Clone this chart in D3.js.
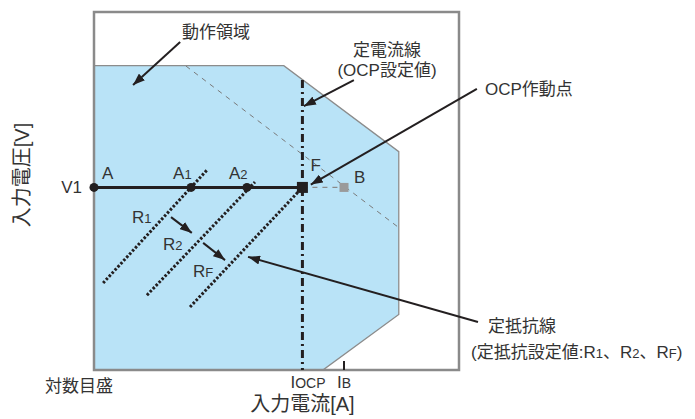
<!DOCTYPE html>
<html>
<head>
<meta charset="utf-8">
<script src="https://cdn.jsdelivr.net/npm/d3@7"></script>
<style>
  body { margin: 0; background: #fff; }
  svg text { font-family: "Liberation Sans", Arial, "Noto Sans CJK JP", sans-serif; fill: #333; }
</style>
</head>
<body>
<svg></svg>
<script>
// chart values, in a 0..100 schematic coordinate system (log current / voltage)
const regionPts = [[0, 85], [52, 85], [83.5, 61], [83.5, 15.5], [62.7, 0], [0, 0]];
const v1 = 51;
const opPoints = [
    { name: "A", sub: "", x: 0 },
    { name: "A", sub: "1", x: 26.6 },
    { name: "A", sub: "2", x: 41.9 }
];
const iOCP = 57.1;
const iB = 68.5;
const ocpTop = 81;
const resistLines = [
    { name: "R", sub: "1", from: [2.5, 24.3], to: [31, 55.9] },
    { name: "R", sub: "2", from: [14.5, 20.9], to: [44.1, 52.5] },
    { name: "R", sub: "F", from: [26.3, 17.6], to: [iOCP, v1] }
];
const powerLine = [[25.2, 84.9], [83.6, 39.7]];
const tickLabels = [{ main: "I", sub: "OCP", x: iOCP }, { main: "I", sub: "B", x: iB }];

// dimensions and margins of the graph
const margin = { top: 12, right: 236, bottom: 49, left: 94 },
    width = 695 - margin.left - margin.right,
    height = 419 - margin.top - margin.bottom;

const root = d3.select("svg")
    .attr("width", 695)
    .attr("height", 419);

const svg = root.append("g")
    .attr("transform", `translate(${margin.left},${margin.top})`);

const xScale = d3.scaleLinear().domain([0, 100]).range([0, width]);
const yScale = d3.scaleLinear().domain([0, 100]).range([height, 0]);

// arrow head
root.append("defs").append("marker")
    .attr("id", "arrow")
    .attr("viewBox", "0 0 10 10")
    .attr("refX", 10)
    .attr("refY", 5)
    .attr("markerUnits", "userSpaceOnUse")
    .attr("markerWidth", 12)
    .attr("markerHeight", 9)
    .attr("preserveAspectRatio", "none")
    .attr("orient", "auto")
    .append("path")
    .attr("d", "M 0 0 L 10 5 L 0 10 z")
    .attr("fill", "#231f20");

const line = d3.line()
    .x(p => xScale(p[0]))
    .y(p => yScale(p[1]));

// operating region
svg.append("path")
    .datum(regionPts)
    .attr("d", line.curve(d3.curveLinearClosed))
    .attr("fill", "#b9e3f7")
    .attr("stroke", "#8c8c8c")
    .attr("stroke-width", 1.3);
line.curve(d3.curveLinear);

// frame
svg.append("rect")
    .attr("x", xScale(0))
    .attr("y", yScale(100))
    .attr("width", xScale(100) - xScale(0))
    .attr("height", yScale(0) - yScale(100))
    .attr("fill", "none")
    .attr("stroke", "#8a8a8a")
    .attr("stroke-width", 2.5);

// thin dashed line through B
svg.append("path")
    .datum(powerLine)
    .attr("d", line)
    .attr("fill", "none")
    .attr("stroke", "#7a7a7a")
    .attr("stroke-width", 1)
    .attr("stroke-dasharray", "5,5");

// dashed F -> B
svg.append("path")
    .datum([[iOCP, v1], [iB, v1]])
    .attr("d", line)
    .attr("stroke", "#8a8a8a")
    .attr("stroke-width", 1.3)
    .attr("stroke-dasharray", "5,5");

// constant-current line (dash dot)
svg.append("path")
    .datum([[iOCP, ocpTop], [iOCP, 0]])
    .attr("d", line)
    .attr("stroke", "#231f20")
    .attr("stroke-width", 3)
    .attr("stroke-dasharray", "8,4,2,4");

// constant-resistance lines
svg.append("g")
    .selectAll("path")
    .data(resistLines)
    .enter()
    .append("path")
    .attr("d", d => line([d.from, d.to]))
    .attr("stroke", "#231f20")
    .attr("stroke-width", 3)
    .attr("stroke-dasharray", "2.5,1.8");

// V1 line A -> F
svg.append("path")
    .datum([[0, v1], [iOCP, v1]])
    .attr("d", line)
    .attr("stroke", "#231f20")
    .attr("stroke-width", 3);

svg.append("g")
    .selectAll("circle")
    .data(opPoints)
    .enter()
    .append("circle")
    .attr("cx", d => xScale(d.x))
    .attr("cy", yScale(v1))
    .attr("r", 4.5)
    .attr("fill", "#231f20");

// F point and B point
svg.append("rect")
    .attr("x", xScale(iOCP) - 5.5)
    .attr("y", yScale(v1) - 5.5)
    .attr("width", 11)
    .attr("height", 11)
    .attr("fill", "#231f20");
svg.append("rect")
    .attr("x", xScale(iB) - 4.5)
    .attr("y", yScale(v1) - 4.5)
    .attr("width", 9)
    .attr("height", 9)
    .attr("fill", "#9a9a9a");

// IB tick
svg.append("line")
    .attr("x1", xScale(iB)).attr("x2", xScale(iB))
    .attr("y1", yScale(0) - 9).attr("y2", yScale(0))
    .attr("stroke", "#231f20")
    .attr("stroke-width", 2);

// annotation arrows
const arrows = [
    [[23.6, 91.6], [10.7, 79.6]],
    [[71.2, 81], [57.5, 73.7]],
    [[104.9, 78.5], [59.4, 51.8]],
    [[105.2, 13.4], [42.2, 31.6]],
    [[21.1, 42.7], [26.8, 38.3]],
    [[29.9, 35.5], [35.9, 30.7]]
];
svg.append("g")
    .selectAll("path")
    .data(arrows)
    .enter()
    .append("path")
    .attr("d", line)
    .attr("stroke", "#231f20")
    .attr("stroke-width", 2)
    .attr("marker-end", "url(#arrow)");

// point labels
function subLabel(g, x, y, main, sub, size, subSize) {
    const t = g.append("text")
        .attr("x", x)
        .attr("y", y)
        .style("font-size", size + "px");
    t.append("tspan").text(main);
    if (sub) t.append("tspan").style("font-size", subSize + "px").text(sub);
    return t;
}

opPoints.forEach(d => {
    subLabel(svg, xScale(d.x) + 8, yScale(v1) - 8, d.name, d.sub, 17, 13)
        .attr("x", xScale(d.x) + (d.sub ? -18 : 8));
});
resistLines.forEach((d, i) => {
    const lx = [132, 163, 193][i] - margin.left;
    const ly = [223, 250, 277][i] - margin.top;
    subLabel(svg, lx, ly, d.name, d.sub, 17, 13);
});
subLabel(svg, xScale(iOCP) + 8, yScale(v1) - 16, "F", "", 17, 13);
subLabel(svg, xScale(iB) + 10, yScale(v1) - 4, "B", "", 17, 13);

svg.append("text")
    .attr("x", -12)
    .attr("y", yScale(v1) + 6)
    .attr("text-anchor", "end")
    .style("font-size", "17px")
    .text("V1");

tickLabels.forEach(d => {
    subLabel(svg, xScale(d.x) - (d.sub === "B" ? 7 : 12), height + 18, d.main, d.sub, 17, 14);
});

// annotation texts (page coords)
const notes = [
    { t: "動作領域", x: 216, y: 38, a: "middle", s: 17 },
    { t: "定電流線", x: 387, y: 56, a: "middle", s: 17 },
    { t: "(OCP設定値)", x: 387, y: 76, a: "middle", s: 17 },
    { t: "OCP作動点", x: 485, y: 95, a: "start", s: 17 },
    { t: "定抵抗線", x: 488, y: 332, a: "start", s: 17 },
    { t: "対数目盛", x: 45, y: 392, a: "start", s: 17 }
];
root.append("g")
    .selectAll("text")
    .data(notes)
    .enter()
    .append("text")
    .attr("x", d => d.x)
    .attr("y", d => d.y)
    .attr("text-anchor", d => d.a)
    .style("font-size", d => d.s + "px")
    .text(d => d.t);

// second line of the resistance note, with small subscripts
const rNote = root.append("text")
    .attr("x", 471)
    .attr("y", 358)
    .style("font-size", "17px");
rNote.append("tspan").text("(定抵抗設定値:");
resistLines.forEach((d, i) => {
    rNote.append("tspan").text(d.name);
    rNote.append("tspan").style("font-size", "13px").text(d.sub);
    rNote.append("tspan").text(i < resistLines.length - 1 ? "、" : ")");
});

// axis titles
root.append("text")
    .attr("x", margin.left + xScale(iOCP))
    .attr("y", 411)
    .attr("text-anchor", "middle")
    .style("font-size", "20px")
    .text("入力電流[A]");

root.append("text")
    .attr("transform", "translate(29,175) rotate(-90)")
    .attr("text-anchor", "middle")
    .style("font-size", "20px")
    .text("入力電圧[V]");
</script>
</body>
</html>
